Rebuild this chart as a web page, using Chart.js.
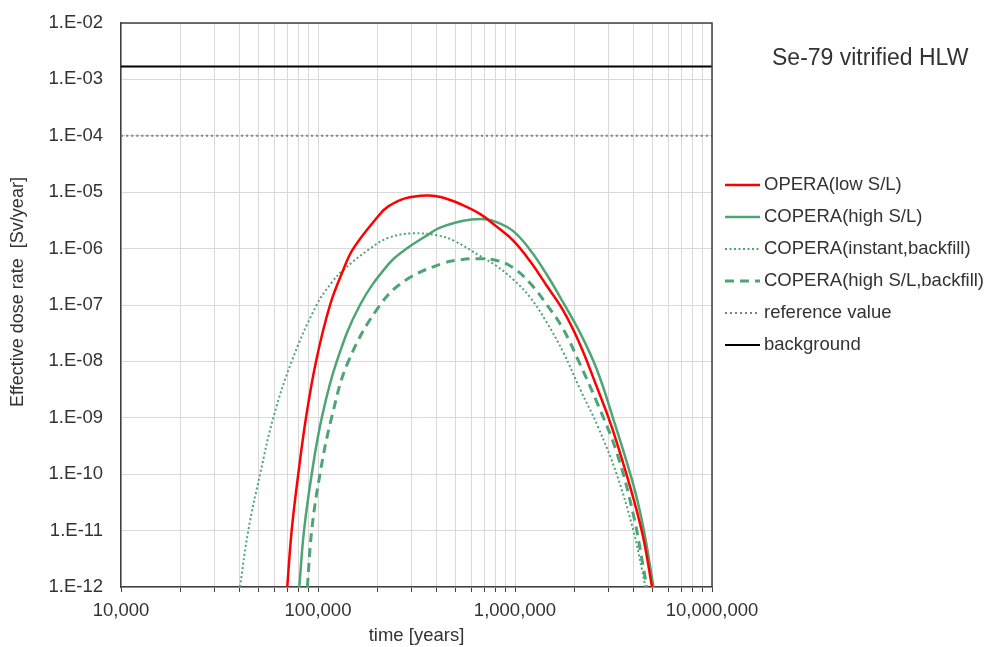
<!DOCTYPE html>
<html>
<head>
<meta charset="utf-8">
<script src="https://cdn.jsdelivr.net/npm/chart.js@4.4.1/dist/chart.umd.min.js"></script>
<style>
  html, body { margin: 0; padding: 0; background: #fff; }
  #wrap { width: 993px; height: 647px; }
</style>
</head>
<body>
<div id="wrap"><canvas id="grafica" width="993" height="647"></canvas></div>
<script>
/* ============================================================
   DATOS — Se-79 vitrified HLW, dosis efectiva vs tiempo
   ============================================================ */
const TITULO   = 'Se-79 vitrified HLW';
const X_TITULO = 'time [years]';
const Y_TITULO = 'Effective dose rate  [Sv/year]';

// tiempo [años] / dosis [Sv/año]
const operaLowT = [69800, 73500, 79400, 86900, 97700, 115100, 134300, 151000, 206500, 227500, 276700, 356500, 424600, 535800, 663700, 807200, 979500, 1191000, 1449000, 1758000, 2138000, 2600000, 2985000, 3281000, 3990000, 4487000, 4960000];
const operaLowD = [1e-12, 1e-11, 1e-10, 1e-9, 1e-8, 1e-7, 4.17e-7, 1e-6, 4.1e-6, 5.6e-6, 7.76e-6, 8.71e-6, 8.13e-6, 6.03e-6, 4.12e-6, 2.45e-6, 1.38e-6, 6.03e-7, 2.19e-7, 7.94e-8, 2.0e-8, 3.55e-9, 1e-9, 3.72e-10, 3.72e-11, 7.24e-12, 1e-12];

const coperaHighT = [80350, 84920, 92900, 104500, 124500, 163300, 227500, 281800, 370700, 408300, 495500, 602600, 707900, 807200, 979500, 1191000, 1449000, 1758000, 2138000, 2600000, 3141000, 3990000, 4487000, 5050000];
const coperaHighD = [1e-12, 1e-11, 1e-10, 1e-9, 1e-8, 1e-7, 5.25e-7, 1e-6, 1.86e-6, 2.29e-6, 2.88e-6, 3.27e-6, 3.31e-6, 2.95e-6, 2.04e-6, 9.55e-7, 3.47e-7, 1.10e-7, 3.24e-8, 7.24e-9, 1e-9, 6.46e-11, 1.10e-11, 1e-12];

const coperaInstT = [40180, 44260, 50820, 59290, 73500, 98400, 117500, 134300, 183700, 227500, 299200, 408300, 495500, 663700, 807200, 979500, 1191000, 1449000, 1758000, 2138000, 2630000, 3281000, 3990000, 4416000, 4592000];
const coperaInstD = [1e-12, 1e-11, 1e-10, 1e-9, 1e-8, 1e-7, 2.51e-7, 4.17e-7, 1e-6, 1.55e-6, 1.86e-6, 1.70e-6, 1.35e-6, 7.41e-7, 4.90e-7, 2.82e-7, 1.38e-7, 4.90e-8, 1.45e-8, 3.24e-9, 7.08e-10, 1e-10, 1e-11, 2.0e-12, 1e-12];

const coperaBackT = [88310, 92900, 102300, 117200, 142600, 206500, 281800, 432500, 524800, 639700, 807200, 979500, 1191000, 1449000, 1758000, 2138000, 2600000, 3281000, 3990000, 4487000, 4656000];
const coperaBackD = [1e-12, 1e-11, 1e-10, 1e-9, 1e-8, 1e-7, 2.82e-7, 5.50e-7, 6.31e-7, 6.61e-7, 6.17e-7, 4.57e-7, 2.45e-7, 1.02e-7, 3.72e-8, 8.91e-9, 1.91e-9, 2.45e-10, 1.91e-11, 2.19e-12, 1e-12];

const limitesT   = [10000, 10000000];
const referencia = [1e-4, 1e-4];
const fondo      = [1.7e-3, 1.7e-3];

// ticks
const X_DECADAS = [10000, 100000, 1000000, 10000000];
const Y_EXP     = [12, 11, 10, 9, 8, 7, 6, 5, 4, 3, 2];

const FUENTE = "'Liberation Sans', Arial, sans-serif";
const TEXTO  = '#333333';
const VERDE  = '#4ea574';

function puntos(ts, ds) { return ts.map((t, i) => ({ x: t, y: ds[i] })); }

const xTicks = [];
X_DECADAS.slice(0, -1).forEach(d => { for (let m = 1; m <= 9; m++) xTicks.push(d * m); });
xTicks.push(X_DECADAS[X_DECADAS.length - 1]);
const yTicks = Y_EXP.map(e => parseFloat('1e-' + e));

/* ============================================================
   PLUGIN — fondo, marco, título, leyenda y título del eje Y
   ============================================================ */
const extras = {
  id: 'extras',
  beforeDraw(chart) {
    const c = chart.ctx;
    c.save();
    c.fillStyle = '#fff';
    c.fillRect(0, 0, chart.width, chart.height);
    c.restore();
  },
  afterDraw(chart) {
    const c = chart.ctx;
    const a = chart.chartArea;
    c.save();
    // marco superior y derecho
    c.strokeStyle = '#404040';
    c.lineWidth = 1.5;
    c.beginPath();
    c.moveTo(a.left, a.top); c.lineTo(a.right, a.top); c.lineTo(a.right, a.bottom);
    c.stroke();

    // título
    c.fillStyle = TEXTO;
    c.font = '23px ' + FUENTE;
    c.textBaseline = 'middle';
    c.textAlign = 'left';
    c.fillText(TITULO, 772, 59);

    // leyenda
    c.font = '18.5px ' + FUENTE;
    chart.data.datasets.forEach((ds, i) => {
      const y = 185 + i * 32;
      c.strokeStyle = ds.borderColor;
      c.lineWidth = ds.borderWidth;
      c.setLineDash(ds.borderDash || []);
      c.beginPath(); c.moveTo(725, y); c.lineTo(760, y); c.stroke();
      c.setLineDash([]);
      c.fillStyle = TEXTO;
      c.fillText(ds.label, 764, y);
    });

    // título eje Y
    c.translate(18, 292);
    c.rotate(-Math.PI / 2);
    c.textAlign = 'center';
    c.font = '18px ' + FUENTE;
    c.fillText(Y_TITULO, 0, 0);
    c.restore();
  }
};

/* ============================================================
   GRÁFICA
   ============================================================ */
const linea = (label, ts, ds, color, width, dash) => ({
  label, data: puntos(ts, ds),
  borderColor: color, backgroundColor: color, borderWidth: width,
  borderDash: dash, pointRadius: 0, fill: false,
  tension: 0.4
});

new Chart(document.getElementById('grafica'), {
  type: 'line',
  data: {
    datasets: [
      linea('OPERA(low S/L)', operaLowT, operaLowD, '#ff0000', 2.5, []),
      linea('COPERA(high S/L)', coperaHighT, coperaHighD, VERDE, 2.5, []),
      linea('COPERA(instant,backfill)', coperaInstT, coperaInstD, VERDE, 2, [2, 2.5]),
      linea('COPERA(high S/L,backfill)', coperaBackT, coperaBackD, VERDE, 3, [9, 6]),
      linea('reference value', limitesT, referencia, '#7f7f7f', 2, [2, 3]),
      linea('background', limitesT, fondo, '#000000', 2, [])
    ]
  },
  options: {
    responsive: false,
    animation: false,
    layout: { padding: { top: 23, right: 281, left: 0, bottom: 0 } },
    plugins: { legend: { display: false }, tooltip: { enabled: false } },
    scales: {
      x: {
        type: 'logarithmic', min: 10000, max: 10000000,
        afterBuildTicks: s => { s.ticks = xTicks.map(v => ({ value: v })); },
        afterFit: s => { s.height = 60; },
        ticks: {
          autoSkip: false, maxRotation: 0, padding: 8, color: TEXTO,
          font: { family: FUENTE, size: 18.5 },
          callback: v => X_DECADAS.includes(v) ? v.toLocaleString('en-US') : ''
        },
        grid: { color: '#d9d9d9', lineWidth: 1, tickLength: 5, tickColor: '#404040' },
        border: { color: '#404040', width: 1.5 },
        title: { display: true, text: X_TITULO, color: TEXTO, padding: { top: 0, bottom: 0 }, font: { family: FUENTE, size: 18.5 } }
      },
      y: {
        type: 'logarithmic', min: 1e-12, max: 1e-2,
        afterBuildTicks: s => { s.ticks = yTicks.map(v => ({ value: v })); },
        afterFit: s => { s.width = 121; s.paddingTop = 0; s.paddingBottom = 0; },
        ticks: {
          autoSkip: false, padding: 18, color: TEXTO,
          font: { family: FUENTE, size: 18.5 },
          callback: (v, i) => '1.E-' + String(Y_EXP[i]).padStart(2, '0')
        },
        grid: { color: '#d9d9d9', lineWidth: 1, drawTicks: false },
        border: { color: '#404040', width: 1.5 }
      }
    }
  },
  plugins: [extras]
});
</script>
</body>
</html>
